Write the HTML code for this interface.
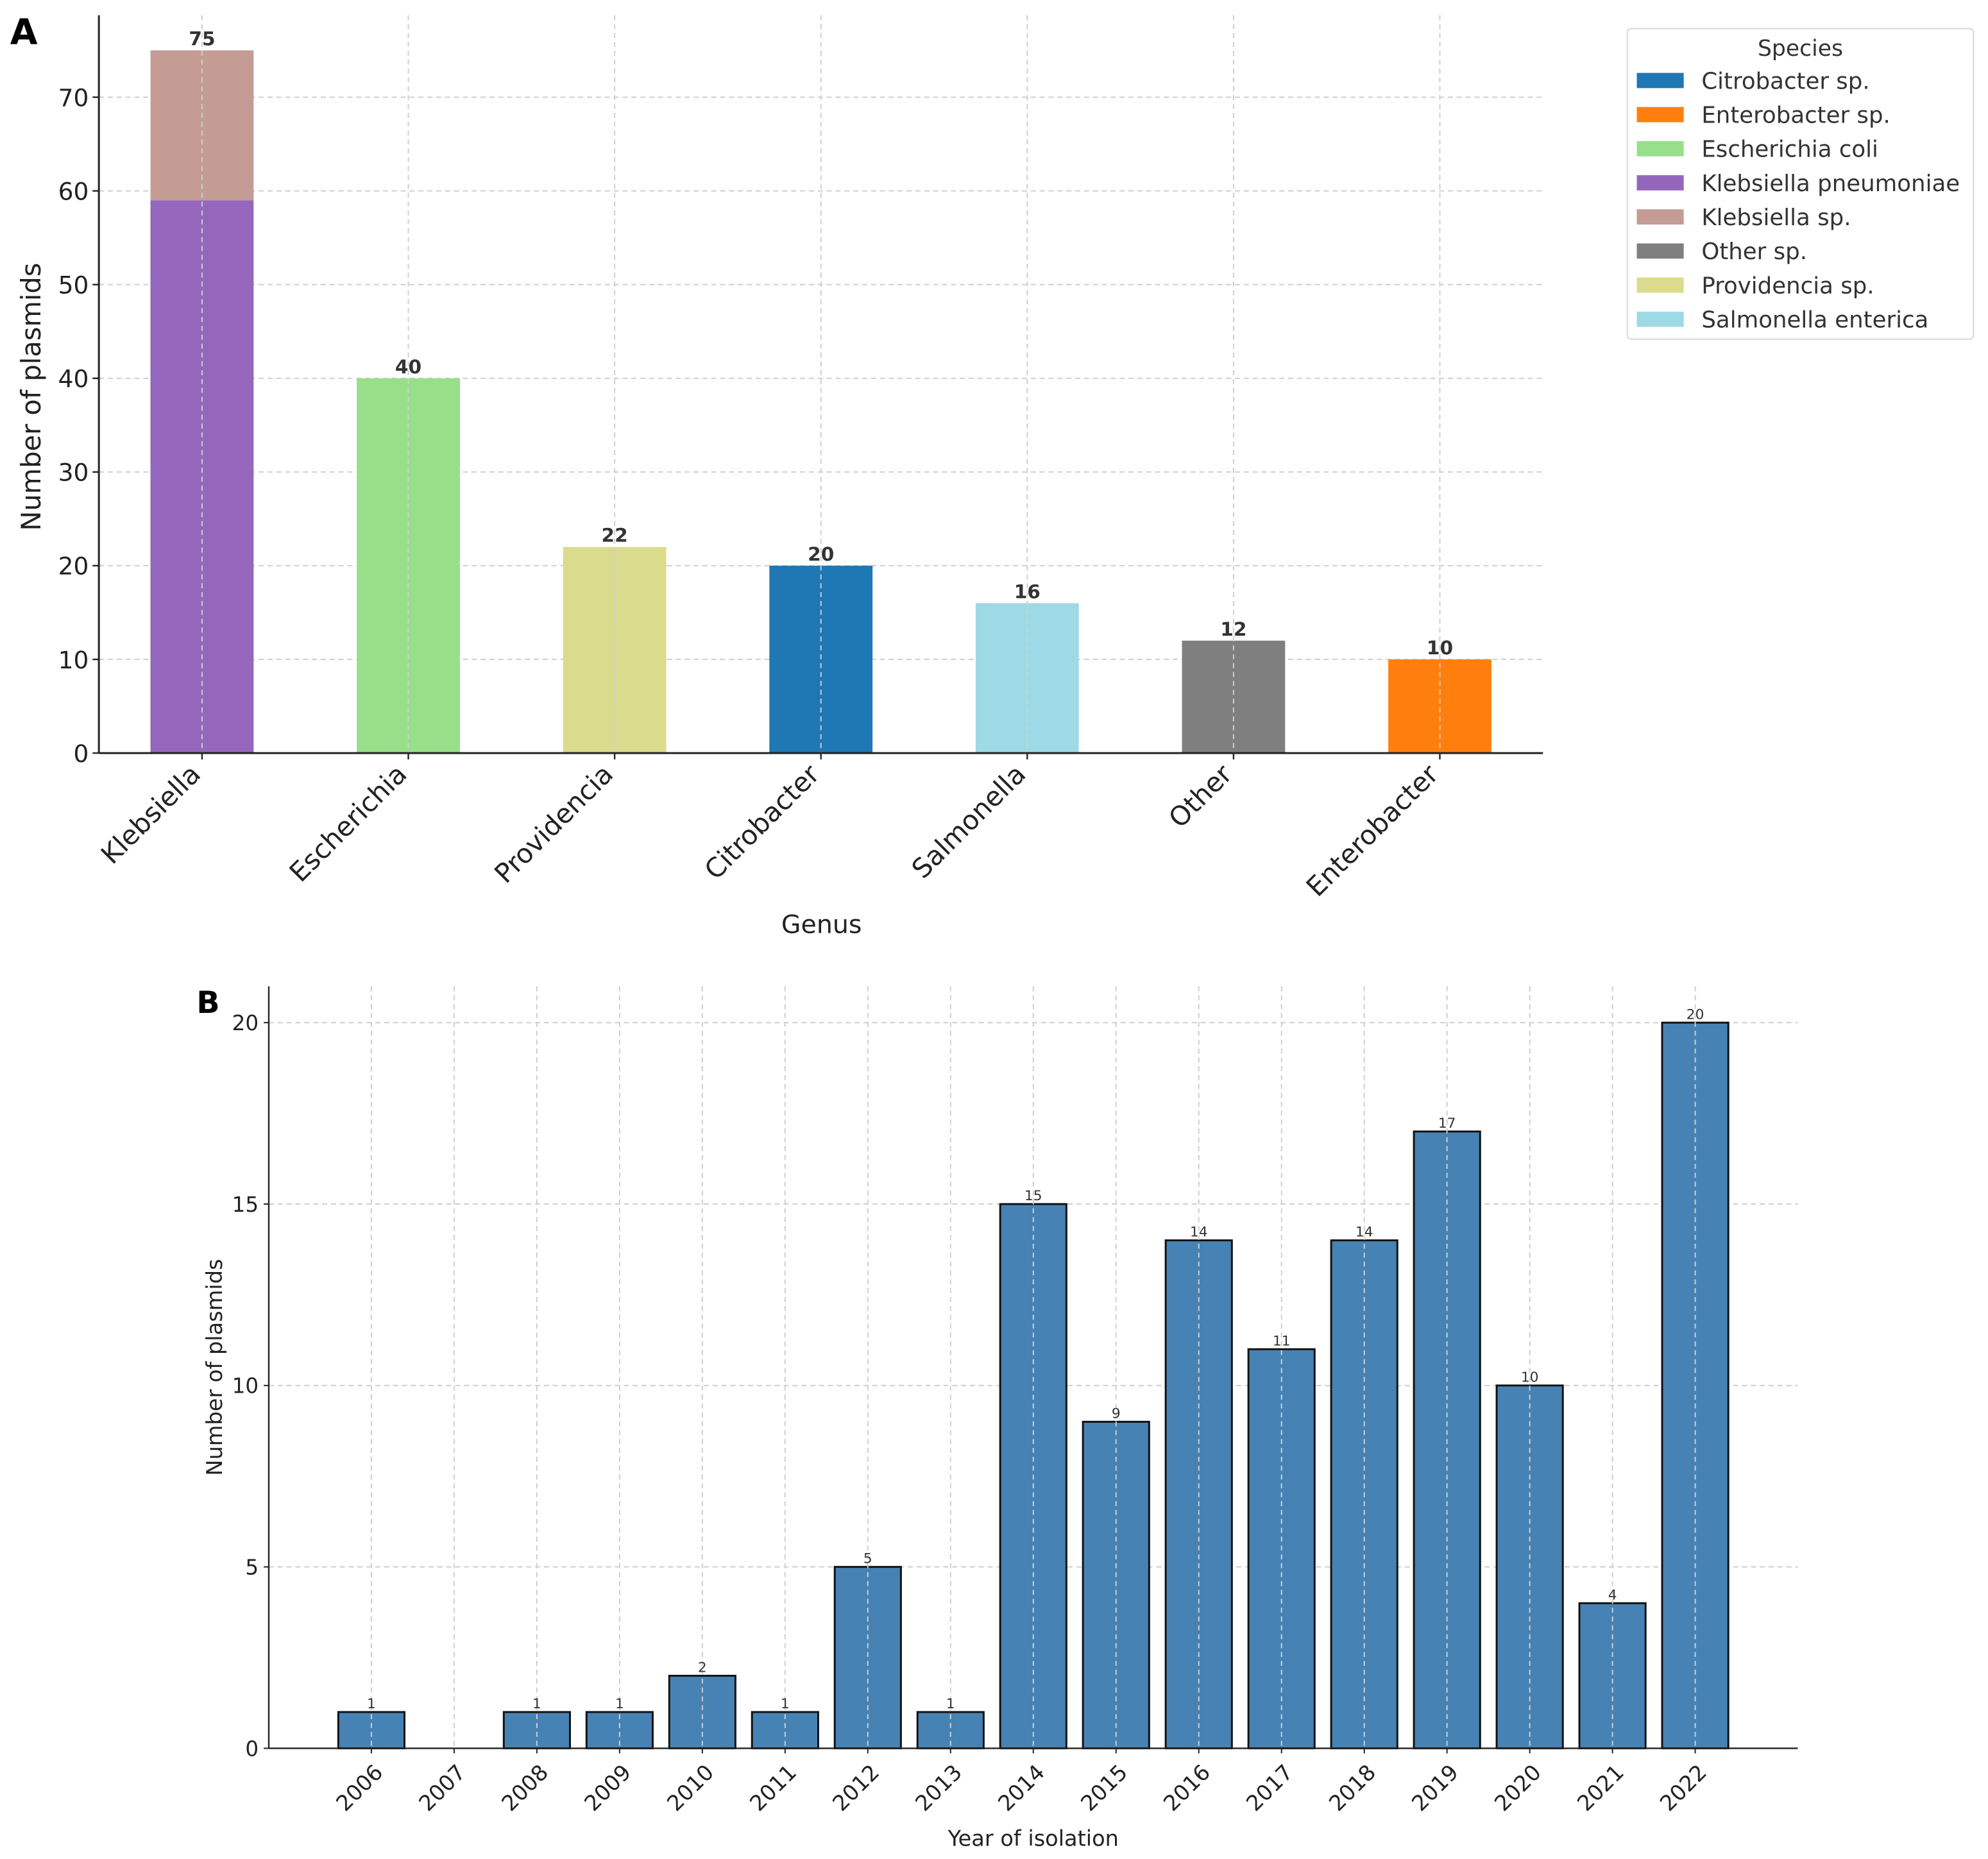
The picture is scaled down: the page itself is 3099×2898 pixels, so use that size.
<!DOCTYPE html>
<html><head><meta charset="utf-8"><style>
html,body{margin:0;padding:0;background:#fff;}
svg{display:block;font-family:"DejaVu Sans","Liberation Sans",sans-serif;}
</style></head><body>
<svg id="fig" width="3099" height="2898" viewBox="0 0 1568 1466.3" xmlns="http://www.w3.org/2000/svg">
<g id="panelA"></g>
<g id="panelB"></g>
</svg>
<script>
const genera = ["Klebsiella","Escherichia","Providencia","Citrobacter","Salmonella","Other","Enterobacter"];
const speciesNames = ["Citrobacter sp.","Enterobacter sp.","Escherichia coli","Klebsiella pneumoniae","Klebsiella sp.","Other sp.","Providencia sp.","Salmonella enterica"];
const speciesColors = ["#1f77b4","#ff7f0e","#98df8a","#9467bd","#c49c94","#7f7f7f","#dbdb8d","#9edae5"];
const segGenus = [0,0,1,2,3,4,5,6];
const segSpecies = [3,4,2,6,0,7,5,1];
const segValues = [59,16,40,22,20,16,12,10];
const genusTotals = [75,40,22,20,16,12,10];
const ticksA = [0,10,20,30,40,50,60,70];

const years = ["2006","2007","2008","2009","2010","2011","2012","2013","2014","2015","2016","2017","2018","2019","2020","2021","2022"];
const yearCounts = [1,0,1,1,2,1,5,1,15,9,14,11,14,17,10,4,20];
const ticksB = [0,5,10,15,20];

const NS="http://www.w3.org/2000/svg";
function mk(parent,tag,attrs,text){const e=document.createElementNS(NS,tag);for(const k in attrs)e.setAttribute(k,attrs[k]);if(text!==undefined)e.textContent=text;parent.appendChild(e);return e;}

// ---------- Panel A ----------
(function(){
const g=document.getElementById('panelA');
const L=78,R=1217,T=12,B=594;
const ymax=78.75;
const xs=i=>L+(i+0.5)/7*(R-L);
const ys=v=>B-v/ymax*(B-T);
const bw=0.5/7*(R-L);
ticksA.forEach(t=>{const l=mk(g,'line',{x1:L,x2:R,y1:ys(t),y2:ys(t),stroke:'#cfcfcf','stroke-width':1,'stroke-dasharray':'4,3'});

});
const base=genera.map(()=>0);
segValues.forEach((v,k)=>{const gi=segGenus[k];const y0=base[gi];base[gi]+=v;
const r=mk(g,'rect',{x:xs(gi)-bw/2,y:ys(y0+v),width:bw,height:ys(y0)-ys(y0+v),fill:speciesColors[segSpecies[k]]});

});
genera.forEach((n,i)=>{const l=mk(g,'line',{x1:xs(i),x2:xs(i),y1:T,y2:B,stroke:'#cfcfcf','stroke-width':1,'stroke-dasharray':'4,3'});

});
genusTotals.forEach((v,i)=>{const t=mk(g,'text',{x:xs(i),y:ys(v)-4,'text-anchor':'middle','font-size':15,'font-weight':'bold',fill:'#333'},String(v));

});
mk(g,'line',{x1:L,x2:L,y1:T,y2:B,stroke:'#222','stroke-width':1.5,});
mk(g,'line',{x1:L,x2:R,y1:B,y2:B,stroke:'#222','stroke-width':1.5,});
ticksA.forEach(t=>{mk(g,'line',{x1:L-5,x2:L,y1:ys(t),y2:ys(t),stroke:'#222','stroke-width':1.2});
const tx=mk(g,'text',{x:L-8,y:ys(t)+7,'text-anchor':'end','font-size':19,fill:'#222'},String(t));

});
genera.forEach((n,i)=>{mk(g,'line',{x1:xs(i),x2:xs(i),y1:B,y2:B+5,stroke:'#222','stroke-width':1.2});
const tx=mk(g,'text',{x:xs(i),y:B+18,'text-anchor':'end','font-size':21,fill:'#222',transform:`rotate(-45 ${xs(i)} ${B+18})`},n);

});
mk(g,'text',{x:648,y:736,'text-anchor':'middle','font-size':20,fill:'#222',},'Genus');
mk(g,'text',{x:32,y:(T+B)/2+10,'text-anchor':'middle','font-size':21,fill:'#222',transform:`rotate(-90 32 ${(T+B)/2+10})`,},'Number of plasmids');
mk(g,'text',{x:8,y:35,'font-size':28,'font-weight':'bold',fill:'#000',},'A');
const lg=mk(g,'g',{});
mk(lg,'rect',{x:1283.5,y:22.5,width:273,height:245,rx:3,fill:'#fff',stroke:'#d8d8d8','stroke-width':1});
mk(lg,'text',{x:1420,y:44,'text-anchor':'middle','font-size':17.5,fill:'#333'},'Species');
speciesNames.forEach((n,i)=>{const cy=63.5+i*26.9;
const e=mk(lg,'g',{});


mk(e,'rect',{x:1291,y:cy-6,width:37,height:12,fill:speciesColors[i]});
mk(e,'text',{x:1342,y:cy+6.5,'font-size':18,fill:'#333'},n);});
})();

// ---------- Panel B ----------
(function(){
const g=document.getElementById('panelB');
const L=212,R=1418,T=778,B=1379;
const ymax=21;
const n=years.length;
const xmin=-1.24,xmax=n-1+1.24;
const xs=i=>L+(i-xmin)/(xmax-xmin)*(R-L);
const ys=v=>B-v/ymax*(B-T);
const bw=0.8*(xs(1)-xs(0));
ticksB.forEach(t=>{const l=mk(g,'line',{x1:L,x2:R,y1:ys(t),y2:ys(t),stroke:'#cfcfcf','stroke-width':1,'stroke-dasharray':'4,3'});

});
yearCounts.forEach((v,i)=>{if(v>0){const r=mk(g,'rect',{x:xs(i)-bw/2,y:ys(v),width:bw,height:ys(0)-ys(v),fill:'#4682b4',stroke:'#111','stroke-width':1.5});

}});
years.forEach((y,i)=>{const l=mk(g,'line',{x1:xs(i),x2:xs(i),y1:T,y2:B,stroke:'#cfcfcf','stroke-width':1,'stroke-dasharray':'4,3'});

});
yearCounts.forEach((v,i)=>{if(v>0){const t=mk(g,'text',{x:xs(i),y:ys(v)-3,'text-anchor':'middle','font-size':11,fill:'#333'},String(v));

}});
mk(g,'line',{x1:L,x2:L,y1:T,y2:B,stroke:'#222','stroke-width':1.2,});
mk(g,'line',{x1:L,x2:R,y1:B,y2:B,stroke:'#222','stroke-width':1.2,});
ticksB.forEach(t=>{mk(g,'line',{x1:L-4,x2:L,y1:ys(t),y2:ys(t),stroke:'#222','stroke-width':1});
const tx=mk(g,'text',{x:L-8,y:ys(t)+6,'text-anchor':'end','font-size':16.5,fill:'#222'},String(t));

});
years.forEach((y,i)=>{mk(g,'line',{x1:xs(i),x2:xs(i),y1:B,y2:B+4,stroke:'#222','stroke-width':1});
const tx=mk(g,'text',{x:xs(i)+10,y:B+20,'text-anchor':'end','font-size':17,fill:'#222',transform:`rotate(-45 ${xs(i)+10} ${B+20})`},y);

});
mk(g,'text',{x:815,y:1456,'text-anchor':'middle','font-size':17,fill:'#222',},'Year of isolation');
mk(g,'text',{x:175,y:(T+B)/2,'text-anchor':'middle','font-size':17,fill:'#222',transform:`rotate(-90 175 ${(T+B)/2})`,},'Number of plasmids');
mk(g,'text',{x:155,y:799,'font-size':24,'font-weight':'bold',fill:'#000',},'B');
})();
</script>
</body></html>
